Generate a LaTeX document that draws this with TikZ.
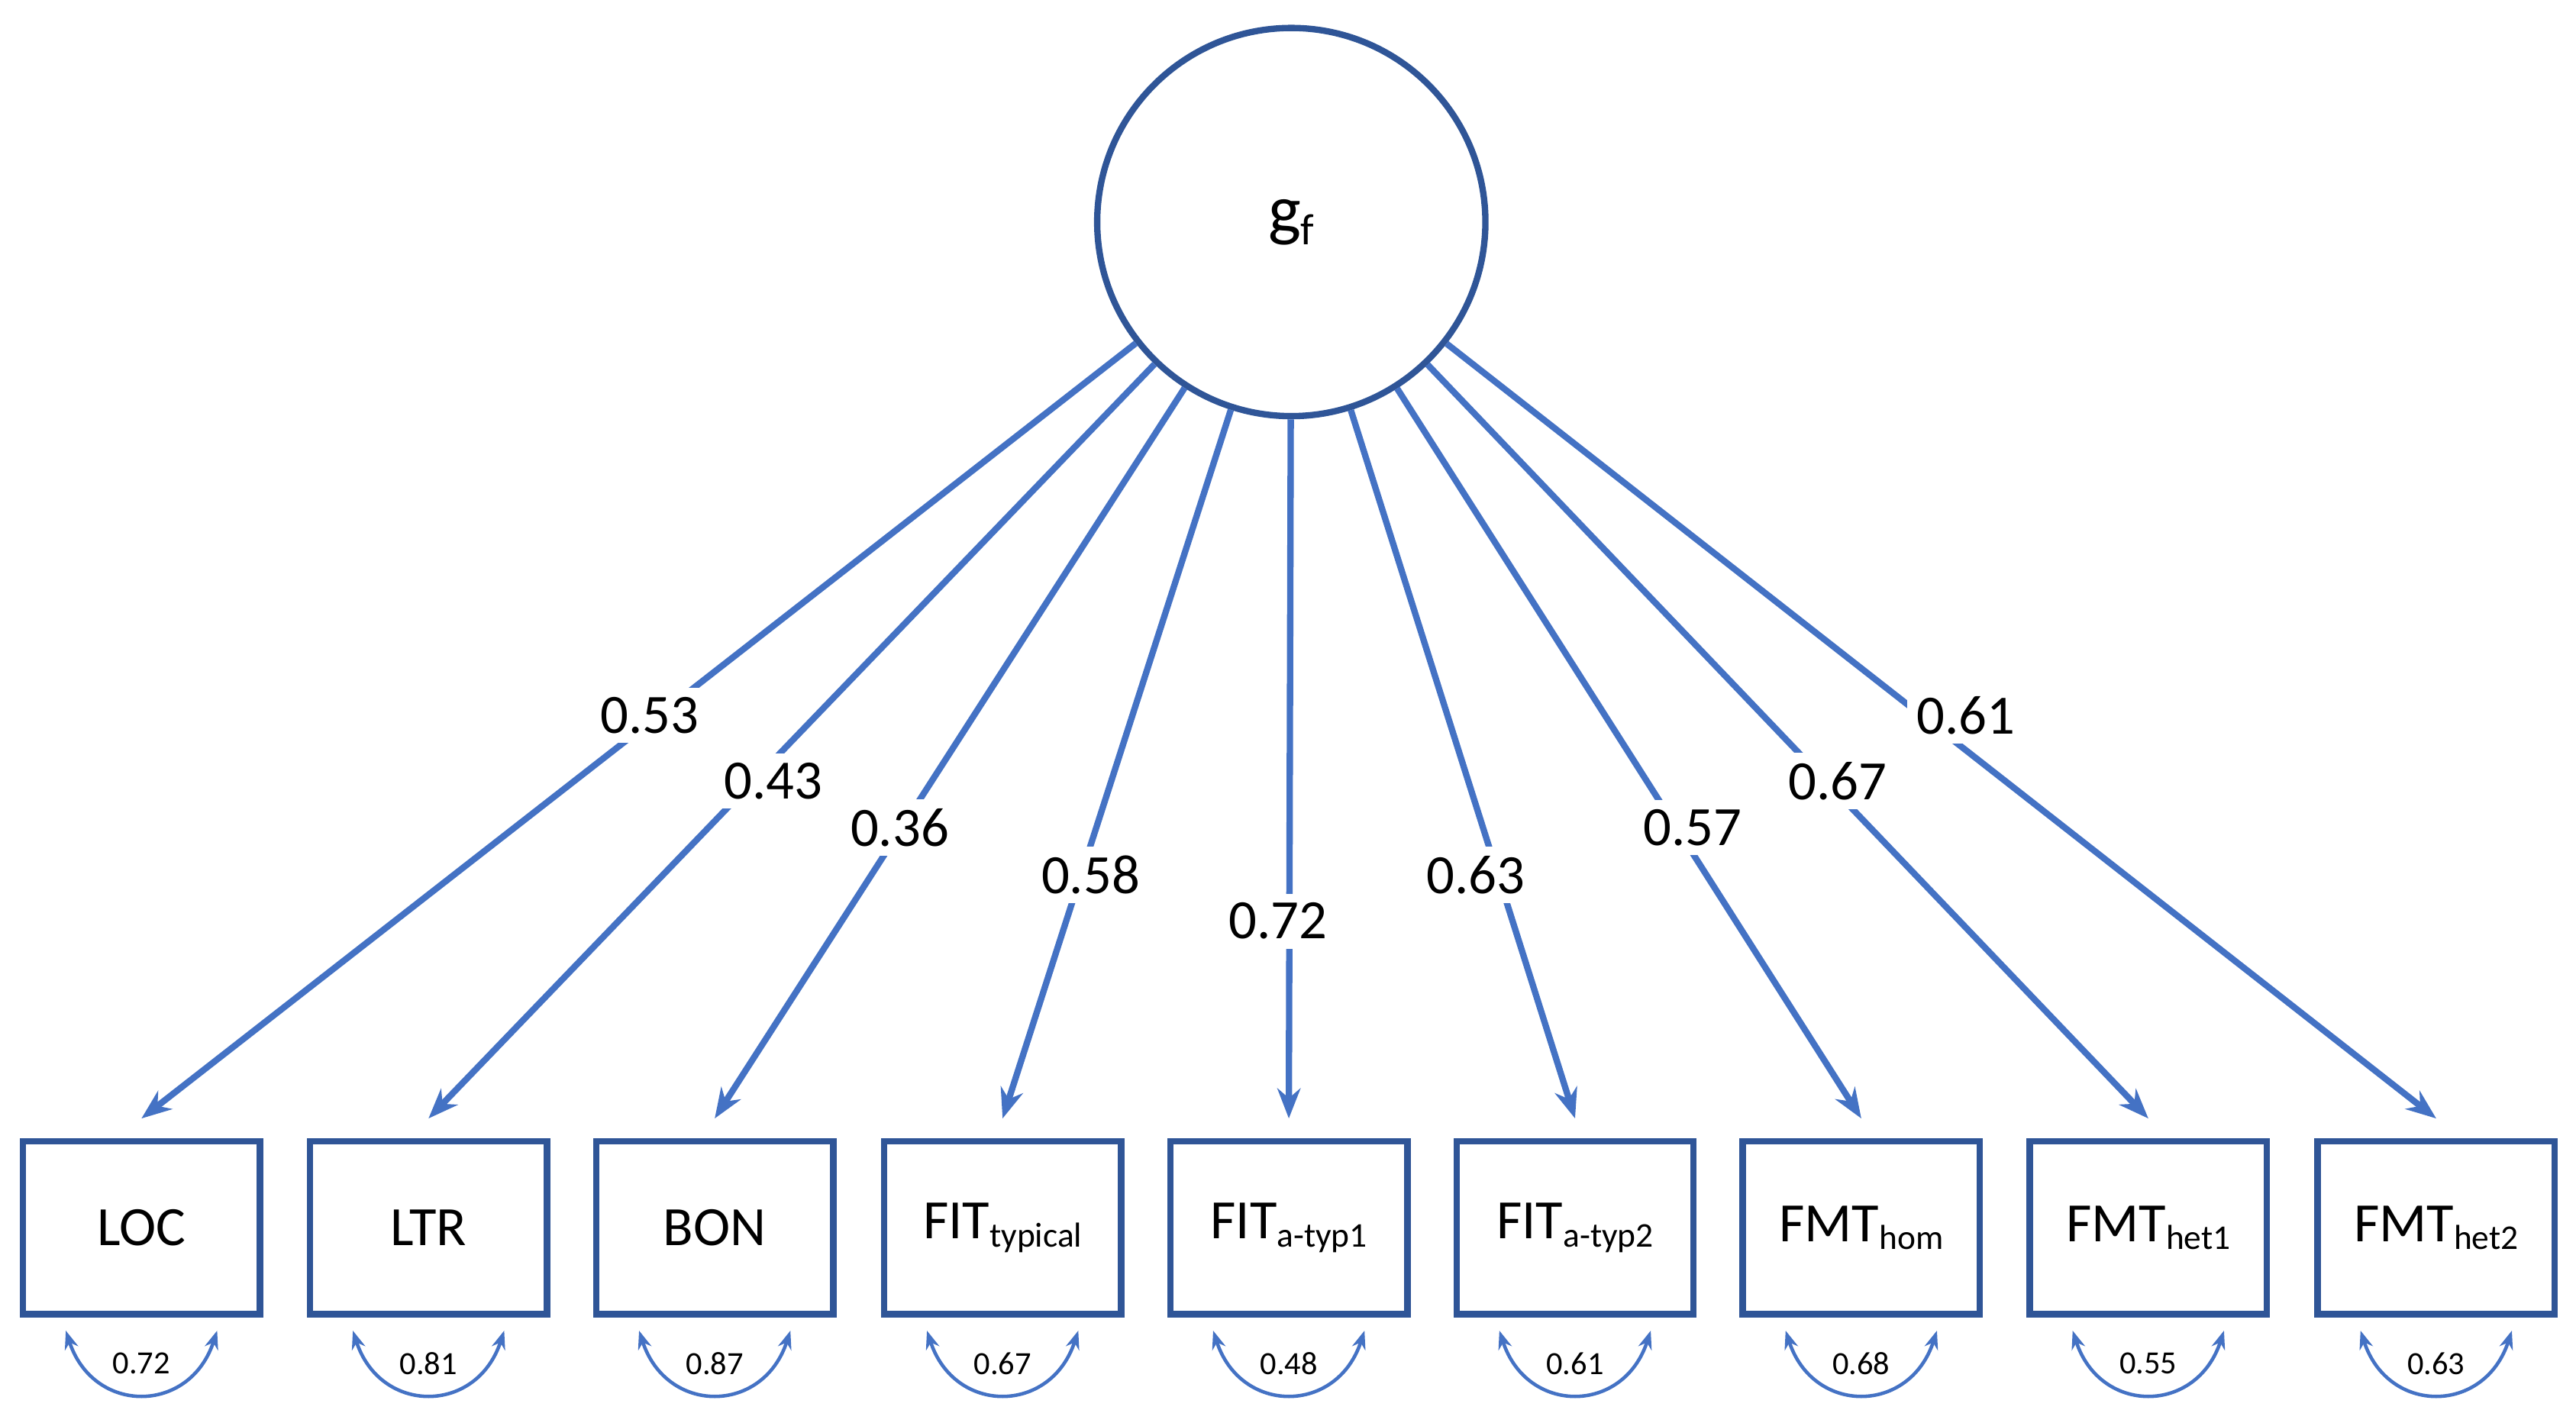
\documentclass[tikz,border=0pt]{standalone}
\usepackage{fontspec}
\setmainfont{Carlito}
\usetikzlibrary{arrows.meta}
\definecolor{dk}{HTML}{2F5597}
\definecolor{ln}{HTML}{4472C4}
\newcommand{\lowsub}[1]{\raisebox{-0.3ex}{\fontsize{30}{32}\selectfont #1}}
\newcommand{\gsub}[1]{\raisebox{-0.35ex}{\fontsize{38}{40}\selectfont #1}}
\begin{document}
\begin{tikzpicture}[x=0.05cm,y=-0.05cm,
  obs/.style={draw=dk,line width=5.5pt,minimum width=148*0.05cm-5.5pt,minimum height=109*0.05cm-5.5pt,inner sep=0pt,font=\fontsize{48}{52}\selectfont},
  load/.style={ln,line width=5.5pt,-{Stealth[length=26pt,width=20pt]}},
  lab/.style={fill=white,inner sep=8pt,font=\fontsize{48}{52}\selectfont},
  res/.style={ln,line width=3pt,{Stealth[length=16pt,width=12pt]}-{Stealth[length=16pt,width=12pt]}},
  rlab/.style={inner sep=0pt,font=\fontsize{28}{30}\selectfont}]
\useasboundingbox (0,0) rectangle (1566,857);
\node[circle,draw=dk,line width=5.5pt,minimum size=236*0.05cm,inner sep=0pt,font=\fontsize{60}{64}\selectfont] (g) at (785,135) {g\gsub{f}};
\def\by{746.5}
\node[obs] (b1) at (86,\by) {LOC};
\node[obs] (b2) at (260.5,\by) {LTR};
\node[obs] (b3) at (434.5,\by) {BON};
\node[obs] (b4) at (609.5,\by) {FIT\lowsub{typical}};
\node[obs] (b5) at (783.5,\by) {FIT\lowsub{a-typ1}};
\node[obs] (b6) at (957.5,\by) {FIT\lowsub{a-typ2}};
\node[obs] (b7) at (1131.5,\by) {FMT\lowsub{hom}};
\node[obs] (b8) at (1306,\by) {FMT\lowsub{het1}};
\node[obs] (b9) at (1481,\by) {FMT\lowsub{het2}};
\foreach \i/\v/\lx/\ly in {1/0.53/395/435,2/0.43/470/475,3/0.36/547/503,4/0.58/663/532,5/0.72/777/560,6/0.63/897/532,7/0.57/1029/503,8/0.67/1117/475,9/0.61/1195/435}{
  \coordinate (t\i) at ([yshift=12*0.05cm]b\i.north);
  \draw[load] (g) -- (t\i);
  \node[lab] (l\i) at (\lx,\ly) {\v};
  \coordinate (ra\i) at ([xshift=-46*0.05cm,yshift=-8*0.05cm]b\i.south);
  \coordinate (rb\i) at ([xshift=46*0.05cm,yshift=-8*0.05cm]b\i.south);
}
\foreach \i/\v in {1/0.72,2/0.81,3/0.87,4/0.67,5/0.48,6/0.61,7/0.68,8/0.55,9/0.63}{
  \draw[res] (ra\i) to[out=-72,in=-108,looseness=1.5] (rb\i);
  \node[rlab] (r\i) at ([yshift=-28*0.05cm]b\i.south) {\v};
}
\end{tikzpicture}
\end{document}
